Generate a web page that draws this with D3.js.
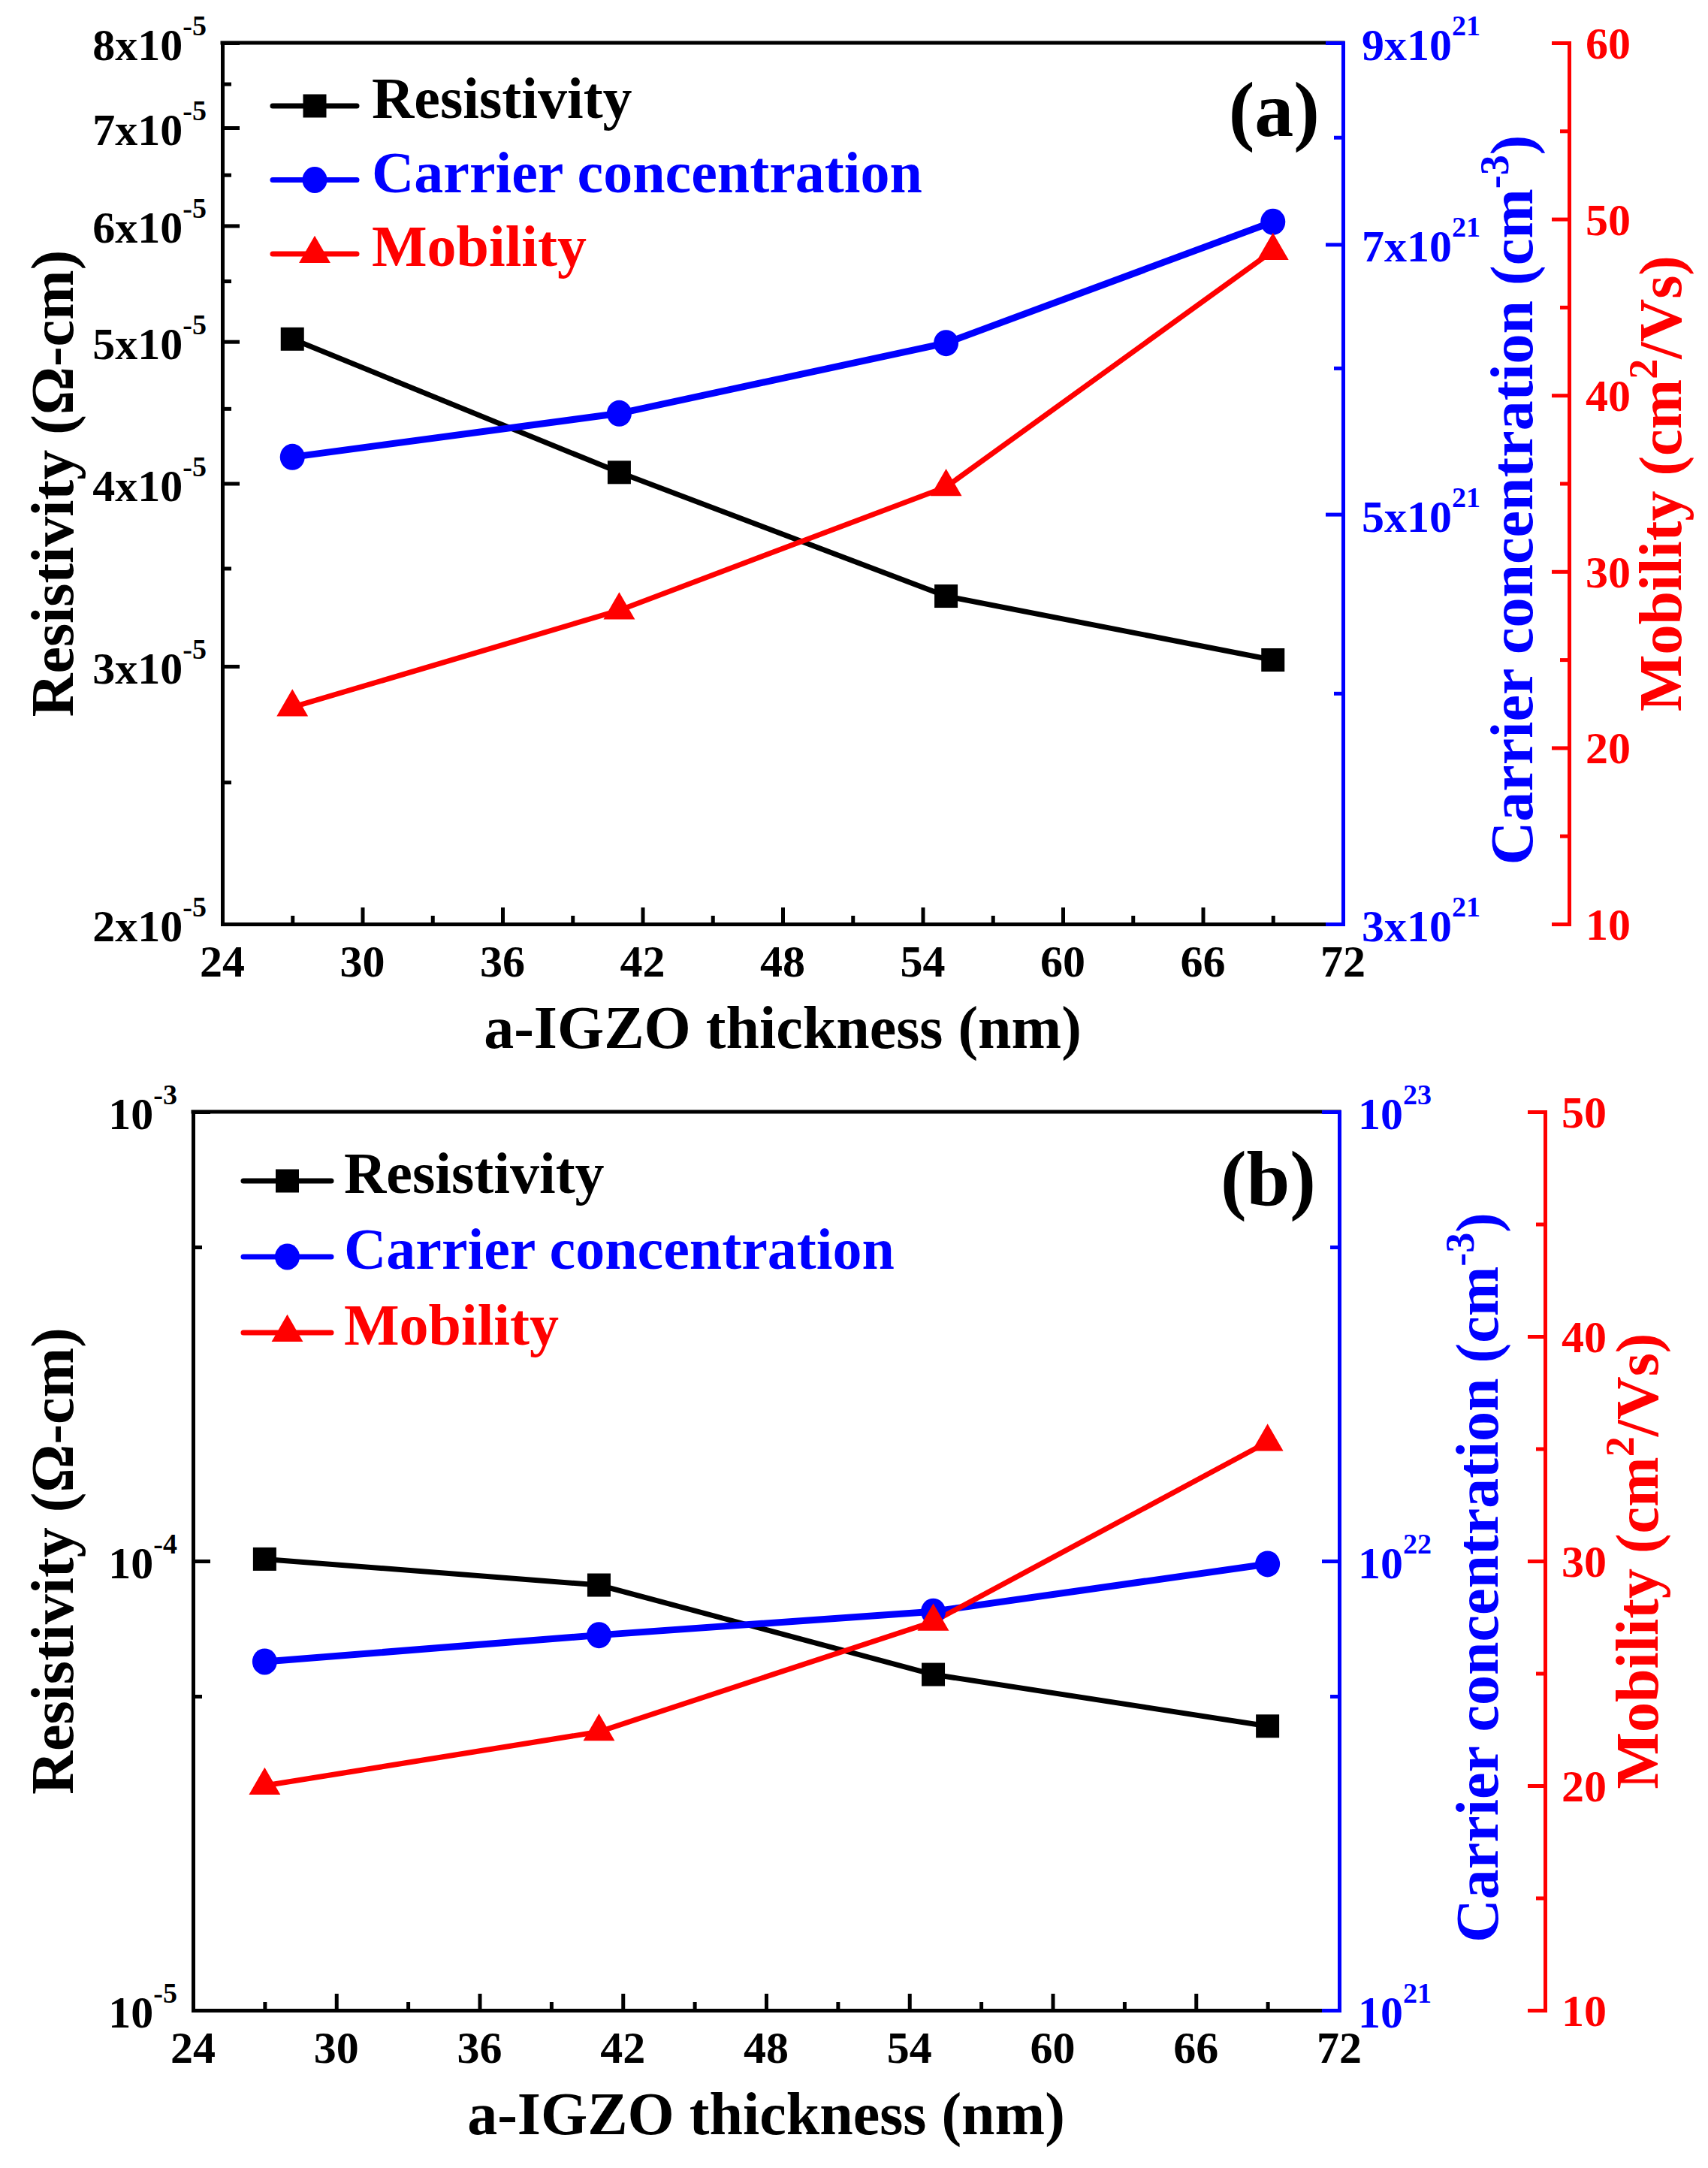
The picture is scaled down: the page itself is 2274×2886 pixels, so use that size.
<!DOCTYPE html>
<html>
<head>
<meta charset="utf-8">
<script src="https://cdn.jsdelivr.net/npm/d3@7"></script>
<style>
  body { margin: 0; background: #fff; }
</style>
</head>
<body>
<div id="chart"></div>
<script>
// x values (a-IGZO thickness, nm)
const thickness = [27, 41, 55, 69];
const xTicks = [24, 30, 36, 42, 48, 54, 60, 66, 72];
const xMinor = [27, 33, 39, 45, 51, 57, 63, 69];

// panel (a)
const resistivityA = [5.02e-5, 4.07e-5, 3.35e-5, 3.03e-5];
const carrierA = [5.37e21, 5.67e21, 6.19e21, 7.20e21];
const mobilityA = [22.3, 27.8, 34.8, 48.2];
const resTicksA = [2e-5, 3e-5, 4e-5, 5e-5, 6e-5, 7e-5, 8e-5];
const resMinorA = [2.5e-5, 3.5e-5, 4.5e-5, 5.5e-5, 6.5e-5, 7.5e-5];
const carTicksA = [3e21, 5e21, 7e21, 9e21];
const carMinorA = [4e21, 6e21, 8e21];
const mobTicksA = [10, 20, 30, 40, 50, 60];
const mobMinorA = [15, 25, 35, 45, 55];

// panel (b)
const resistivityB = [1.01e-4, 8.84e-5, 5.59e-5, 4.29e-5];
const carrierB = [5.97e21, 6.84e21, 7.72e21, 9.85e21];
const mobilityB = [20.0, 22.4, 27.3, 35.3];
const resTicksB = [1e-5, 1e-4, 1e-3];
const resMinorB = [5e-5, 5e-4];
const carTicksB = [1e21, 1e22, 1e23];
const carMinorB = [5e21, 5e22];
const mobTicksB = [10, 20, 30, 40, 50];
const mobMinorB = [15, 25, 35, 45];

const seriesNames = ["Resistivity", "Carrier concentration", "Mobility"];
const BLUE = "#0000ff", RED = "#ff0000", BLACK = "#000000";
const FONT = "'Liberation Serif', 'Times New Roman', Times, 'DejaVu Serif', serif";

const svg = d3.select("#chart").append("svg")
    .attr("width", 2274)
    .attr("height", 2886)
    .attr("font-family", FONT)
    .attr("font-weight", "bold")
    .style("background", "#fff");

// split a value into "Nx10" / "10" and its exponent
function sciParts(v, plain) {
    const e = Math.floor(Math.log10(v) + 1e-9);
    const m = Math.round(v / Math.pow(10, e));
    return { base: plain ? "10" : m + "x10", sup: String(e) };
}

function supText(g, x, y, anchor, color, parts) {
    const t = g.append("text")
        .attr("x", x).attr("y", y)
        .attr("text-anchor", anchor)
        .attr("fill", color)
        .attr("font-size", 60);
    t.append("tspan").text(parts.base);
    t.append("tspan").attr("dy", -33).attr("font-size", 38).text(parts.sup);
}

function styleAxis(g, color, w) {
    g.selectAll("path,line").attr("stroke", color).attr("stroke-width", w);
    g.selectAll(".domain").attr("stroke-linecap", "square");
}

function drawPanel(p) {
    const g = svg.append("g");
    const x = d3.scaleLinear().domain([24, 72]).range([p.left, p.right]);
    const yRes = d3.scaleLog().domain(p.resDomain).range([p.bottom, p.top]);
    const yCar = d3.scaleLog().domain(p.carDomain).range([p.bottom, p.top]);
    const yMob = d3.scaleLinear().domain(p.mobDomain).range([p.bottom, p.top]);

    const series = [
        { vals: p.res, y: yRes, color: BLACK, sym: "square", w: 7 },
        { vals: p.car, y: yCar, color: BLUE, sym: "circle", w: 9 },
        { vals: p.mob, y: yMob, color: RED, sym: "triangle", w: 7 }
    ];

    // lines
    series.forEach(s => {
        const line = d3.line()
            .x((d, i) => x(thickness[i]))
            .y(d => s.y(d));
        g.append("path")
            .datum(s.vals)
            .attr("d", line)
            .attr("fill", "none")
            .attr("stroke", s.color)
            .attr("stroke-width", s.w)
            .attr("stroke-linejoin", "miter");
    });

    // top frame
    g.append("line")
        .attr("x1", x.range()[0]).attr("x2", x.range()[1])
        .attr("y1", p.top).attr("y2", p.top)
        .attr("stroke", BLACK).attr("stroke-width", 5).attr("stroke-linecap", "square");

    // bottom axis
    const gx = g.append("g").attr("transform", `translate(0,${p.bottom})`);
    gx.append("g").call(d3.axisBottom(x).tickValues(xTicks).tickSize(-22).tickSizeOuter(0).tickFormat(""));
    gx.append("g").call(d3.axisBottom(x).tickValues(xMinor).tickSize(-11).tickSizeOuter(0).tickFormat(""))
        .select(".domain").remove();
    styleAxis(gx, BLACK, 5);
    xTicks.forEach(v => {
        g.append("text")
            .attr("x", x(v)).attr("y", p.bottom + 70)
            .attr("text-anchor", "middle")
            .attr("font-size", 60)
            .text(v);
    });

    // left axis
    const gy = g.append("g").attr("transform", `translate(${p.left},0)`);
    gy.append("g").call(d3.axisLeft(yRes).tickValues(p.resTicks).tickSize(-23).tickSizeOuter(0).tickFormat(""));
    gy.append("g").call(d3.axisLeft(yRes).tickValues(p.resMinor).tickSize(-12).tickSizeOuter(0).tickFormat(""))
        .select(".domain").remove();
    styleAxis(gy, BLACK, 5);
    p.resTicks.forEach(v => {
        supText(g, p.left - 21, yRes(v) + 23, "end", BLACK, sciParts(v, p.plainPow));
    });

    // right (carrier) axis
    const gc = g.append("g").attr("transform", `translate(${p.right},0)`);
    gc.append("g").call(d3.axisRight(yCar).tickValues(p.carTicks).tickSize(-23).tickSizeOuter(0).tickFormat(""));
    gc.append("g").call(d3.axisRight(yCar).tickValues(p.carMinor).tickSize(-12).tickSizeOuter(0).tickFormat(""))
        .select(".domain").remove();
    styleAxis(gc, BLUE, 5);
    p.carTicks.forEach(v => {
        supText(g, p.right + 25, yCar(v) + 23, "start", BLUE, sciParts(v, p.plainPow));
    });

    // offset (mobility) axis
    const gm = g.append("g").attr("transform", `translate(${p.redX},0)`);
    gm.append("g").call(d3.axisRight(yMob).tickValues(p.mobTicks).tickSize(-23).tickSizeOuter(0).tickFormat(""));
    gm.append("g").call(d3.axisRight(yMob).tickValues(p.mobMinor).tickSize(-12).tickSizeOuter(0).tickFormat(""))
        .select(".domain").remove();
    styleAxis(gm, RED, 5);
    p.mobTicks.forEach(v => {
        g.append("text")
            .attr("x", p.redX + 22).attr("y", yMob(v) + 21)
            .attr("fill", RED)
            .attr("font-size", 60)
            .text(v);
    });

    // markers
    function marker(sel, sym, cx, cy, color) {
        if (sym === "square") {
            sel.append("rect").attr("x", cx - 15.5).attr("y", cy - 15.5)
                .attr("width", 31).attr("height", 31).attr("fill", color);
        } else if (sym === "circle") {
            sel.append("ellipse").attr("cx", cx).attr("cy", cy)
                .attr("rx", 16.5).attr("ry", 17.5).attr("fill", color);
        } else {
            sel.append("path")
                .attr("d", d3.symbol(d3.symbolTriangle, 760)())
                .attr("transform", `translate(${cx},${cy})`)
                .attr("fill", color);
        }
    }
    series.forEach(s => {
        s.vals.forEach((v, i) => marker(g, s.sym, x(thickness[i]), s.y(v), s.color));
    });

    // legend
    series.forEach((s, i) => {
        const ly = p.legY + i * p.legGap;
        g.append("line")
            .attr("x1", p.legX0).attr("x2", p.legX1)
            .attr("y1", ly).attr("y2", ly)
            .attr("stroke", s.color).attr("stroke-width", 7).attr("stroke-linecap", "round");
        marker(g, s.sym, (p.legX0 + p.legX1) / 2, ly, s.color);
        g.append("text")
            .attr("x", p.legTx).attr("y", ly + 16)
            .attr("fill", s.color)
            .attr("font-size", 78)
            .text(seriesNames[i]);
    });

    // panel tag
    g.append("text")
        .attr("x", p.right - 31).attr("y", p.top + 124)
        .attr("text-anchor", "end")
        .attr("font-size", 104)
        .text(p.tag);

    // axis titles
    const midY = (p.top + p.bottom) / 2;
    g.append("text")
        .attr("x", (p.left + p.right) / 2).attr("y", p.bottom + 165)
        .attr("text-anchor", "middle")
        .attr("font-size", 80)
        .text("a-IGZO thickness (nm)");

    g.append("text")
        .attr("transform", `translate(97,${midY}) rotate(-90)`)
        .attr("text-anchor", "middle")
        .attr("font-size", 80)
        .text("Resistivity (Ω-cm)");

    const tc = g.append("text")
        .attr("transform", `translate(${p.blueTitleX},${midY + 22}) rotate(-90)`)
        .attr("text-anchor", "middle")
        .attr("fill", BLUE)
        .attr("font-size", 80);
    tc.append("tspan").text("Carrier concentration (cm");
    tc.append("tspan").attr("dy", -32).attr("font-size", 54).text("-3");
    tc.append("tspan").attr("dy", 32).text(")");

    const tm = g.append("text")
        .attr("transform", `translate(${p.redTitleX},${midY}) rotate(-90)`)
        .attr("text-anchor", "middle")
        .attr("fill", RED)
        .attr("font-size", 80);
    tm.append("tspan").text("Mobility (cm");
    tm.append("tspan").attr("dy", -32).attr("font-size", 54).text("2");
    tm.append("tspan").attr("dy", 32).text("/Vs)");
}

drawPanel({
    tag: "(a)", left: 296, right: 1788, top: 57, bottom: 1230, redX: 2089,
    resDomain: [2e-5, 8e-5], carDomain: [3e21, 9e21], mobDomain: [10, 60],
    res: resistivityA, car: carrierA, mob: mobilityA,
    resTicks: resTicksA, resMinor: resMinorA,
    carTicks: carTicksA, carMinor: carMinorA,
    mobTicks: mobTicksA, mobMinor: mobMinorA,
    plainPow: false,
    legX0: 363, legX1: 475, legTx: 495, legY: 141, legGap: 98.5,
    blueTitleX: 2040, redTitleX: 2238
});

drawPanel({
    tag: "(b)", left: 257, right: 1783, top: 1480, bottom: 2676, redX: 2057,
    resDomain: [1e-5, 1e-3], carDomain: [1e21, 1e23], mobDomain: [10, 50],
    res: resistivityB, car: carrierB, mob: mobilityB,
    resTicks: resTicksB, resMinor: resMinorB,
    carTicks: carTicksB, carMinor: carMinorB,
    mobTicks: mobTicksB, mobMinor: mobMinorB,
    plainPow: true,
    legX0: 324, legX1: 441, legTx: 458, legY: 1572, legGap: 101,
    blueTitleX: 1994, redTitleX: 2207
});
</script>
</body>
</html>
